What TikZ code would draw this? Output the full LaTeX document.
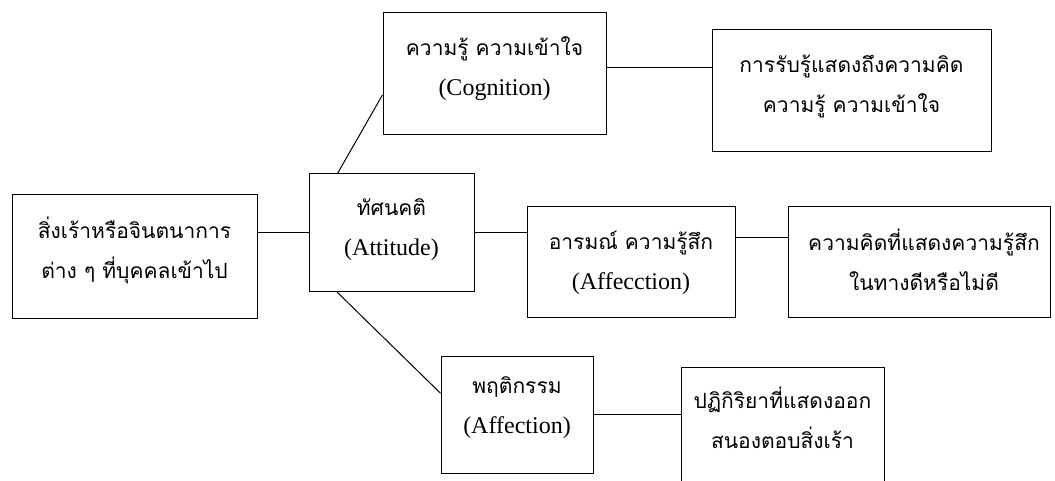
\documentclass[tikz,border=0pt]{standalone}
\usepackage{fontspec}
\setmainfont{Liberation Serif}
\newfontfamily\thaifnt[Script=Thai]{Loma}
\usetikzlibrary{calc}
\newcommand{\thtx}[1]{{\thaifnt\fontsize{21}{40}\selectfont #1}}
\tikzset{
  box/.style={draw, line width=1pt, inner sep=0pt},
  txt/.style={align=center, inner sep=0pt, font=\fontsize{24}{40}\selectfont},
  link/.style={line width=1pt}
}
\begin{document}
\begin{tikzpicture}[x=1pt,y=-1pt]
\clip (0,0) rectangle (1055,481);
\useasboundingbox (0,0) rectangle (1055,481);
% boxes
\node[box, minimum width=245pt, minimum height=123pt] (left) at (134.5,256.5) {};
\node[box, minimum width=165pt, minimum height=117pt] (att) at (391.5,232.5) {};
\node[box, minimum width=223pt, minimum height=122pt] (cog) at (494.5,74) {};
\node[box, minimum width=279pt, minimum height=122pt] (perc) at (851.5,91) {};
\node[box, minimum width=208pt, minimum height=110pt] (aff) at (631,262) {};
\node[box, minimum width=262pt, minimum height=110pt] (feel) at (919,262) {};
\node[box, minimum width=152pt, minimum height=117pt] (beh) at (517,414.5) {};
\node[box, minimum width=203pt, minimum height=128pt] (react) at (782.5,431) {};
% texts
\node[txt] (left-t) at (134.5,250) {\thtx{สิ่งเร้าหรือจินตนาการ}\\\thtx{ต่าง ๆ ที่บุคคลเข้าไป}};
\node[txt] (att-t) at (391.5,230) {\thtx{ทัศนคติ}\\(Attitude)};
\node[txt] (cog-t) at (494.5,69) {\thtx{ความรู้ ความเข้าใจ}\\(Cognition)};
\node[txt] (perc-t) at (851.5,86) {\thtx{การรับรู้แสดงถึงความคิด}\\\thtx{ความรู้ ความเข้าใจ}};
\node[txt] (aff-t) at (631,263) {\thtx{อารมณ์ ความรู้สึก}\\(Affecction)};
\node[txt] (feel-t) at (924,260) {\thtx{ความคิดที่แสดงความรู้สึก}\\\thtx{ในทางดีหรือไม่ดี}};
\node[txt] (beh-t) at (517,408) {\thtx{พฤติกรรม}\\(Affection)};
\node[txt] (react-t) at (782.5,418) {\thtx{ปฏิกิริยาที่แสดงออก}\\\thtx{สนองตอบสิ่งเร้า}};
% connector anchor points
\coordinate (cogR) at ($(cog.north east)!0.45!(cog.south east)$);
\coordinate (cogL) at ($(cog.north west)!0.67!(cog.south west)$);
\coordinate (behL) at ($(beh.north west)!0.32!(beh.south west)$);
% connectors
\draw[link] (att.west) -- (att.west -| left.east);
\draw[link] (att.east) -- (att.east -| aff.west);
\draw[link] ([yshift=-5pt]att.east -| aff.east) -- ([yshift=-5pt]att.east -| feel.west);
\draw[link] (cogR) -- (cogR -| perc.west);
\draw[link] (beh.east) -- (beh.east -| react.west);
\draw[link] ([xshift=29pt]att.north west) -- (cogL);
\draw[link] ([xshift=28pt]att.south west) -- (behL);
\end{tikzpicture}
\end{document}
